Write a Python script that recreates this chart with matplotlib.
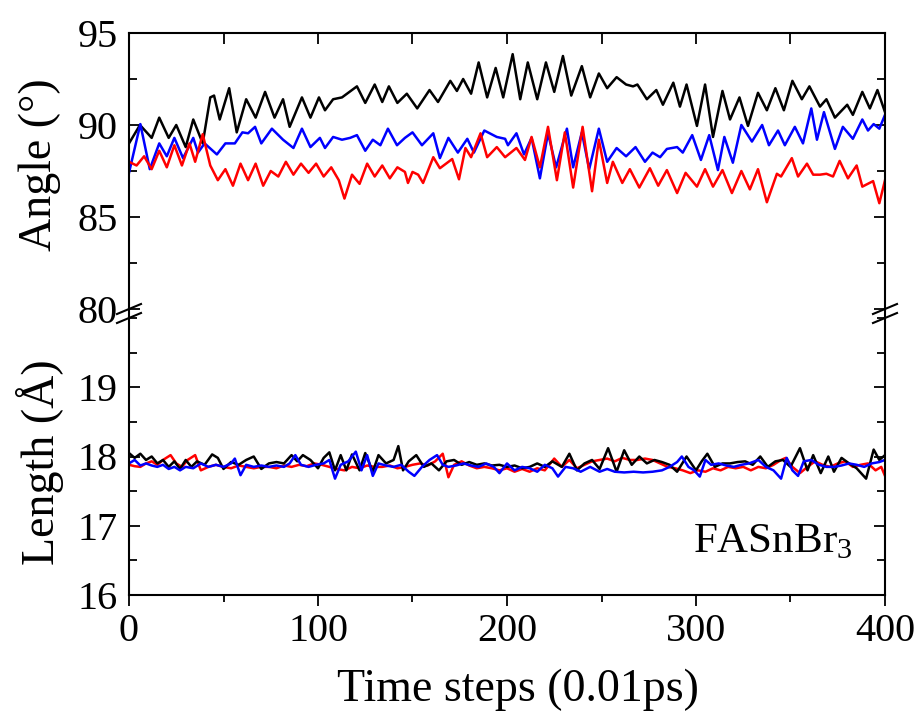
import numpy as np
import matplotlib
matplotlib.use("Agg")
import matplotlib.pyplot as plt
from matplotlib.lines import Line2D
from matplotlib.ticker import MultipleLocator

plt.rcParams["font.family"] = ["Liberation Serif", "DejaVu Serif"]
plt.rcParams["mathtext.fontset"] = "custom"
plt.rcParams["mathtext.rm"] = "Liberation Serif"

# angle vs time step (top panel) as (step, degrees)
black_angle = [(0, 89.0), (5.8, 90.0), (12, 89.3), (16, 90.4), (21, 89.3), (25, 90.0), (30, 88.8), (34, 90.3),
               (39, 89.0), (43, 91.5), (45, 91.6), (48, 90.3), (53, 92.0), (57, 89.6), (62, 91.4), (67, 90.4),
               (72, 91.8), (77, 90.4), (81.5, 91.4), (85, 89.9), (91.5, 91.5), (96, 90.4), (100.5, 91.5),
               (103.7, 90.8), (108, 91.4), (112.7, 91.5), (120.6, 92.1), (125, 91.2), (130, 92.2), (134, 91.25),
               (137.5, 92.1), (142, 91.2), (147, 91.7), (152.5, 90.9), (159, 91.9), (163.5, 91.25), (170, 92.4),
               (173.5, 91.85), (176.8, 92.5), (181, 91.7), (185, 93.4), (189.5, 91.5), (194, 93.1), (198, 91.5),
               (203, 93.85), (207, 91.4), (211, 93.4), (216, 91.4), (220.6, 93.4), (225, 91.8), (229.6, 93.75),
               (234, 91.6), (239.6, 93.2), (244, 91.5), (248.6, 92.8), (253, 92.0), (258, 92.6), (263, 92.2),
               (266.7, 92.1), (269, 92.2), (274, 91.4), (279, 91.9), (282.5, 91.1), (288, 92.3), (291.5, 91.0),
               (295, 92.2), (300.5, 89.95), (304.8, 92.2), (309, 89.35), (314, 91.85), (318, 90.3), (323, 91.5),
               (327.5, 89.95), (332.8, 91.75), (337.5, 90.8), (342, 92.0), (346.5, 90.8), (351, 92.4), (356, 91.4),
               (360, 92.1), (365.6, 91.0), (369, 91.4), (373.5, 90.4), (380, 91.1), (383, 90.55), (388, 91.8),
               (392, 90.9), (396, 91.9), (400, 90.7)]

blue_angle = [(0, 87.4), (6, 90.05), (11, 87.6), (16, 89.0), (20, 88.3), (24, 89.3), (28.6, 88.2), (34, 89.3),
              (36.5, 88.5), (40, 89.0), (46.5, 88.4), (51, 89.0), (56, 89.0), (60, 89.6), (63, 89.55), (66.7, 89.9),
              (70, 89.0), (75.6, 89.8), (81.5, 89.2), (87, 88.75), (91.5, 89.8), (96, 88.8), (101, 89.3),
              (103.7, 88.75), (108, 89.35), (112.7, 89.2), (117, 89.3), (120.6, 89.45), (125, 88.6), (129, 89.2),
              (133, 88.9), (137, 89.8), (141.8, 88.9), (146, 89.3), (150, 89.6), (155, 88.9), (161, 89.55),
              (164.5, 88.2), (169, 89.3), (174, 88.5), (179, 89.25), (182.5, 88.5), (188, 89.7), (194.6, 89.35),
              (199, 89.25), (200.5, 88.9), (205, 89.55), (209, 88.4), (213, 89.3), (217.4, 87.1), (221.7, 89.55),
              (226, 87.7), (231.7, 89.8), (235, 87.7), (239.6, 89.6), (243.5, 87.6), (248.6, 89.8), (253, 88.0),
              (258, 88.75), (263, 88.3), (268, 88.8), (273, 88.0), (277, 88.5), (281, 88.25), (284.6, 88.7),
              (290, 88.8), (293, 88.5), (298, 89.45), (302.6, 88.1), (307, 89.45), (311.6, 87.55), (315, 89.35),
              (319.5, 87.95), (324, 90.0), (329.6, 89.1), (335, 90.0), (338.6, 88.9), (343.4, 89.7), (347, 88.9),
              (352.3, 89.9), (356.6, 89.0), (361, 90.9), (364, 89.2), (367.7, 90.7), (373.5, 88.7), (377.7, 89.9),
              (383, 89.25), (388, 90.3), (391, 89.7), (394, 90.05), (397, 89.8), (400, 90.55)]

red_angle = [(0, 88.0), (4, 87.8), (8, 88.3), (12, 87.6), (16, 88.6), (20, 87.7), (24, 88.9), (28, 87.8),
             (32, 89.0), (35, 88.0), (39, 89.5), (43, 87.8), (47, 87.0), (51, 87.6), (55, 86.7), (59, 87.9),
             (63, 87.0), (67, 87.9), (71, 86.7), (75, 87.5), (79, 87.2), (83, 88.0), (87, 87.3), (91, 87.9),
             (95, 87.4), (99, 87.9), (103, 87.2), (107, 87.7), (111, 87.0), (114, 86.0), (118, 87.3), (122, 86.8),
             (126, 87.9), (130, 87.2), (134, 87.8), (138, 87.1), (142, 87.7), (146, 87.45), (147.6, 86.85),
             (150, 87.45), (153, 87.3), (155.6, 86.85), (161, 88.25), (164.5, 87.65), (171, 88.15), (174.6, 87.05),
             (178, 88.75), (181, 88.25), (186, 89.55), (189.5, 88.25), (194.6, 88.8), (199, 88.25), (205, 88.75),
             (209.5, 88.1), (213, 89.35), (217.4, 87.7), (221.7, 89.9), (226.4, 87.0), (230.6, 89.6), (235, 86.6),
             (240, 89.9), (245, 86.4), (248.6, 89.2), (253, 86.85), (256, 88.0), (261, 86.85), (265, 87.6),
             (270, 86.6), (275.6, 87.65), (280, 86.7), (284.6, 87.55), (290, 86.3), (294.5, 87.4), (300.5, 86.65),
             (304.8, 87.6), (309, 86.65), (314, 87.55), (319, 86.3), (324, 87.5), (328.5, 86.5), (332.8, 87.6),
             (337.5, 85.8), (342.8, 87.35), (345, 87.2), (350.7, 88.2), (354, 87.2), (358.7, 87.9), (362, 87.3),
             (365.6, 87.3), (369, 87.35), (372.5, 87.2), (376, 88.05), (380.4, 87.1), (385, 87.8), (388, 86.65),
             (393.7, 86.95), (397, 85.75), (400, 87.0)]

# length vs time step (bottom panel), (step, angstrom)
black_length = [(0, 18.05), (3, 17.98), (6, 18.04), (9, 17.95), (12, 18.0), (15, 17.9), (18, 17.95), (21, 17.85),
                (24, 17.93), (27, 17.82), (30, 17.95), (33, 17.85), (36, 17.93), (40, 17.88), (44, 18.03),
                (47, 17.98), (50, 17.82), (54, 17.92), (58, 17.88), (62, 17.95), (66, 18.0), (70, 17.82),
                (74, 17.9), (78, 17.92), (82, 17.9), (86, 18.02), (89, 17.93), (92, 18.02), (96, 17.95),
                (100, 17.83), (103, 17.98), (106, 18.06), (109, 17.8), (112, 18.02), (115, 17.8), (118, 18.03),
                (122, 17.8), (125, 18.05), (129, 17.78), (132, 18.02), (136, 17.9), (140, 17.95), (142.5, 18.15),
                (145, 17.8), (148, 17.93), (152, 18.02), (156, 17.85), (160, 17.9), (164, 17.8), (168, 17.93),
                (172, 17.95), (176, 17.88), (180, 17.92), (184, 17.88), (188, 17.9), (192, 17.87), (196, 17.88),
                (200, 17.85), (204, 17.87), (208, 17.83), (212, 17.85), (216, 17.9), (220, 17.85), (224, 17.93),
                (229, 17.85), (233, 18.04), (237, 17.8), (241, 17.9), (245, 17.95), (249, 17.82), (253.5, 18.12),
                (258, 17.78), (262, 18.09), (266, 17.88), (270, 18.0), (274, 17.9), (278, 17.95), (282, 17.92),
                (286, 17.88), (290, 17.78), (295, 18.0), (300, 17.8), (303, 17.93), (306, 18.04), (310, 17.85),
                (314, 17.9), (318, 17.9), (322, 17.92), (326, 17.93), (330, 17.88), (334, 18.0), (338, 17.85),
                (342, 17.93), (346, 17.95), (350, 17.85), (355, 18.12), (359, 17.8), (362, 18.02), (366, 17.76),
                (370, 18.0), (373, 17.78), (377, 17.98), (381, 17.9), (385, 17.83), (390, 17.68), (394, 18.1),
                (397, 17.95), (400, 18.02)]

red_length = [(0, 17.88), (3, 17.86), (6, 17.85), (9, 17.9), (12, 17.93), (15, 17.88), (18, 17.95), (22, 18.02),
              (25, 17.9), (28, 17.85), (31, 17.95), (35, 18.02), (38, 17.8), (42, 17.85), (46, 17.88), (50, 17.85),
              (54, 17.83), (58, 17.87), (62, 17.85), (66, 17.83), (70, 17.85), (74, 17.85), (78, 17.83),
              (82, 17.87), (86, 17.85), (90, 17.88), (94, 17.86), (98, 17.9), (102, 17.88), (106, 17.85),
              (110, 17.82), (114, 17.8), (118, 17.85), (122, 17.83), (126, 17.87), (130, 17.85), (134, 17.85),
              (138, 17.87), (142, 17.83), (146, 17.85), (150, 17.88), (154, 17.9), (158, 17.87), (162, 17.93),
              (166, 18.04), (169, 17.7), (172, 17.88), (176, 17.93), (180, 17.87), (184, 17.83), (188, 17.85),
              (192, 17.83), (196, 17.8), (200, 17.83), (204, 17.78), (208, 17.82), (212, 17.78), (216, 17.83),
              (220, 17.8), (225, 17.97), (229, 17.85), (233, 17.95), (237, 17.83), (241, 17.88), (245, 17.93),
              (249, 17.95), (253, 17.97), (257, 17.93), (261, 17.98), (265, 17.95), (269, 17.95), (273, 17.97),
              (277, 17.95), (281, 17.9), (285, 17.85), (289, 17.83), (293, 17.8), (297, 17.76), (301, 17.8),
              (305, 17.78), (309, 17.83), (313, 17.8), (317, 17.85), (321, 17.83), (325, 17.85), (329, 17.8),
              (333, 17.85), (337, 17.83), (341, 17.88), (345, 17.95), (347.5, 17.98), (351, 17.85), (355, 17.76),
              (359, 17.85), (363, 17.93), (367, 17.88), (371, 17.85), (375, 17.9), (379, 17.93), (383, 17.85),
              (387, 17.88), (391, 17.9), (395, 17.8), (398, 17.85), (400, 17.72)]

blue_length = [(0, 17.9), (3, 17.95), (6, 17.87), (9, 17.9), (12, 17.87), (15, 17.85), (18, 17.88), (21, 17.82),
               (24, 17.85), (27, 17.8), (30, 17.85), (34, 17.83), (38, 17.9), (42, 17.85), (46, 17.88), (50, 17.85),
               (54, 17.9), (56, 17.97), (59, 17.73), (62, 17.88), (66, 17.85), (70, 17.87), (74, 17.85), (78, 17.87),
               (82, 17.85), (85, 17.9), (88, 18.02), (91, 17.88), (95, 17.85), (99, 17.88), (103, 17.9), (106, 17.95),
               (109, 17.68), (112, 17.88), (116, 17.93), (120, 18.07), (123, 17.8), (126, 18.02), (129, 17.72),
               (132, 17.9), (136, 17.87), (140, 17.85), (144, 17.88), (148, 17.78), (151, 17.72), (155, 17.85),
               (159, 17.95), (163, 18.02), (166, 17.88), (169, 17.85), (173, 17.87), (177, 17.9), (181, 17.87),
               (185, 17.85), (189, 17.9), (193, 17.85), (196, 17.76), (200, 17.9), (204, 17.8), (208, 17.85),
               (212, 17.83), (216, 17.78), (220, 17.88), (224, 17.83), (227, 17.71), (231, 17.85), (235, 17.83),
               (239, 17.78), (244, 17.85), (249, 17.78), (253, 17.82), (257, 17.78), (262, 17.77), (267, 17.78),
               (272, 17.77), (277, 17.78), (282, 17.8), (286, 17.85), (290, 17.92), (292.5, 18.0), (296, 17.85),
               (299, 17.8), (302, 17.71), (305, 17.95), (308, 17.88), (312, 17.9), (316, 17.87), (320, 17.85),
               (324, 17.88), (328, 17.9), (333, 17.95), (337, 17.85), (341, 17.8), (345, 17.68), (348, 17.98),
               (351, 17.8), (354, 17.72), (357, 17.93), (361, 17.95), (365, 17.88), (369, 17.85), (373, 17.85),
               (377, 17.87), (381, 17.9), (385, 17.88), (389, 17.85), (393, 17.9), (397, 17.92), (400, 17.95)]

W, H = 918, 728
fig = plt.figure(figsize=(W / 100, H / 100), dpi=100)

# panel geometry in pixels: x 129..885, top panel 33..309, bottom panel 318..595
x0, x1 = 129, 885
ax_top = fig.add_axes([x0 / W, 1 - 309 / H, (x1 - x0) / W, (309 - 33) / H])
ax_bot = fig.add_axes([x0 / W, 1 - 595 / H, (x1 - x0) / W, (595 - 318) / H])

lw = 1.8
for data, col in [(black_angle, "black"), (blue_angle, "#0000ff"), (red_angle, "#ff0000")]:
    a = np.array(data)
    ax_top.plot(a[:, 0], a[:, 1], color=col, lw=lw, solid_joinstyle="round")
for data, col in [(red_length, "#ff0000"), (black_length, "black"), (blue_length, "#0000ff")]:
    a = np.array(data)
    ax_bot.plot(a[:, 0], a[:, 1], color=col, lw=lw, solid_joinstyle="round")

fs = 29
for ax in (ax_top, ax_bot):
    ax.set_xlim(0, 400)
    ax.xaxis.set_major_locator(MultipleLocator(100))
    ax.xaxis.set_minor_locator(MultipleLocator(50))
    for s in ax.spines.values():
        s.set_linewidth(1.5)
    ax.tick_params(axis="y", which="both", direction="in", left=True, right=True,
                   labelsize=fs, pad=8, width=1.3)
    ax.tick_params(axis="y", which="major", length=8)
    ax.tick_params(axis="y", which="minor", length=6)

ax_top.set_ylim(80, 95)
ax_top.yaxis.set_major_locator(MultipleLocator(5))
ax_top.yaxis.set_minor_locator(MultipleLocator(2.5))
ax_top.spines["bottom"].set_visible(False)
ax_top.tick_params(axis="x", which="both", direction="in", top=True, bottom=False,
                   labelbottom=False, width=1.3)
ax_top.tick_params(axis="x", which="major", length=8)
ax_top.tick_params(axis="x", which="minor", length=8)

ax_bot.set_ylim(16, 20)
ax_bot.set_yticks([16, 17, 18, 19])
ax_bot.yaxis.set_minor_locator(MultipleLocator(0.5))
ax_bot.spines["top"].set_visible(False)
ax_bot.tick_params(axis="x", which="both", direction="out", top=False, bottom=True,
                   labelsize=fs, width=1.3, pad=5)
ax_bot.tick_params(axis="x", which="major", length=8)
ax_bot.tick_params(axis="x", which="minor", length=5)

# spine pieces across the gap and the break marks
for xp in (x0, x1):
    fig.add_artist(Line2D([xp / W, xp / W], [1 - 309 / H, 1 - 318 / H], color="black", lw=1.5))
    for yp in (309, 318):
        fig.add_artist(Line2D([(xp - 12) / W, (xp + 12) / W], [1 - (yp + 5) / H, 1 - (yp - 5) / H],
                              color="black", lw=1.5))

ax_bot.text(383, 16.62, "FASnBr$_{\\mathregular{3}}$", fontsize=31, ha="right", va="baseline")

fig.text(40 / W, 1 - 165 / H, "Angle (°)", rotation=90, ha="center", va="center", fontsize=33)
fig.text(40 / W, 1 - 462 / H, "Length (Å)", rotation=90, ha="center", va="center", fontsize=33)
fig.text(518 / W, 1 - 690 / H, "Time steps (0.01ps)", ha="center", va="center", fontsize=33)

fig.savefig("out.png", dpi=100)
